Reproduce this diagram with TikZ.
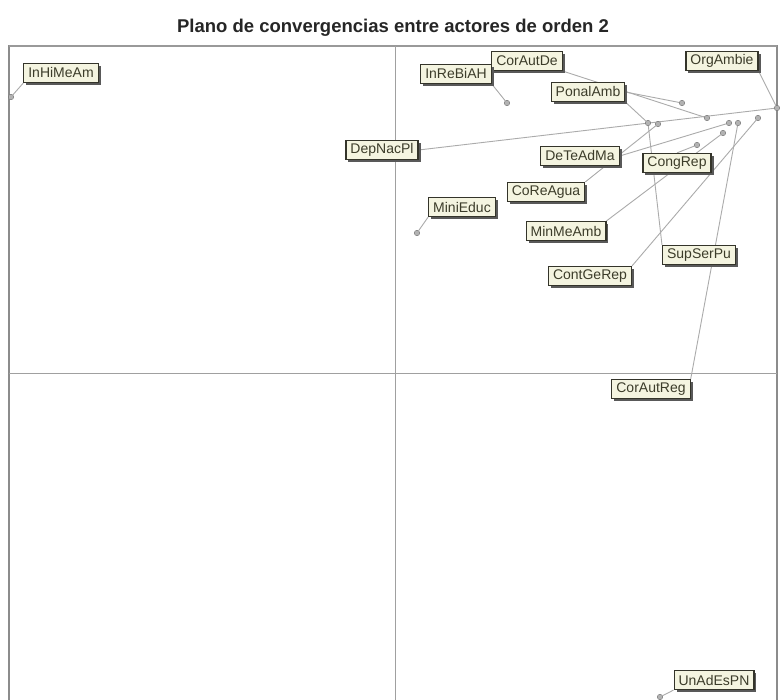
\documentclass[tikz,border=0pt]{standalone}
\usepackage{fontspec}
\setmainfont{Liberation Sans}
\usetikzlibrary{shadows,backgrounds}
\definecolor{cream}{HTML}{F4F4E0}
\definecolor{boxline}{HTML}{34342A}
\definecolor{axisgray}{HTML}{A0A0A0}
\definecolor{leadgray}{HTML}{ABABAB}
\definecolor{labtext}{HTML}{3C3C2A}
\tikzset{
  lab/.style={draw=boxline, line width=1.2pt, fill=cream, text=labtext,
    font=\fontsize{14}{15}\selectfont, inner xsep=4.5pt, inner ysep=0pt,
    minimum height=19pt, anchor=center,
    drop shadow={shadow xshift=2.5pt, shadow yshift=-2.5pt, fill=black!65, opacity=1}},
  pt/.style={circle, draw=black!55, fill=black!30, inner sep=0pt, minimum size=5.5pt},
  lead/.style={draw=leadgray, line width=0.9pt},
  axisline/.style={draw=axisgray, line width=0.9pt},
  frameline/.style={draw=black!45, line width=1.3pt}
}
\begin{document}
\begin{tikzpicture}[x=1pt,y=-1pt]
\useasboundingbox (0,0) rectangle (780,700);
% title
\node[font=\bfseries\fontsize{18.5}{20}\selectfont, text=black!85] (title) at (393,28) {Plano de convergencias entre actores de orden 2};
% points
\node[pt] (pInHi) at (11,97) {};
\node[pt] (pInRe) at (507,103) {};
\node[pt] (pMini) at (417,233) {};
\node[pt] (pUnAd) at (660,697) {};
\node[pt] (p1) at (648,123) {};
\node[pt] (p2) at (658,124) {};
\node[pt] (p3) at (682,103) {};
\node[pt] (p4) at (707,118) {};
\node[pt] (p5) at (729,123) {};
\node[pt] (p6) at (738,123) {};
\node[pt] (p7) at (758,118) {};
\node[pt] (p8) at (723,133) {};
\node[pt] (p9) at (697,145) {};
\node[pt] (p10) at (777,108) {};
% labels
\node[lab] (InHiMeAm) at (61,73) {InHiMeAm};
\node[lab] (CorAutDe) at (527,61) {CorAutDe};
\node[lab] (InReBiAH) at (456,74) {InReBiAH};
\node[lab] (OrgAmbie) at (722,61) {OrgAmbie};
\node[lab] (PonalAmb) at (588,92) {PonalAmb};
\node[lab] (DepNacPl) at (382,150) {DepNacPl};
\node[lab] (DeTeAdMa) at (580,156) {DeTeAdMa};
\node[lab] (CongRep) at (677,163) {CongRep};
\node[lab] (CoReAgua) at (546,192) {CoReAgua};
\node[lab] (MiniEduc) at (462,207) {MiniEduc};
\node[lab] (MinMeAmb) at (566,231) {MinMeAmb};
\node[lab] (SupSerPu) at (699,255) {SupSerPu};
\node[lab] (ContGeRep) at (590,276) {ContGeRep};
\node[lab] (CorAutReg) at (651,389) {CorAutReg};
\node[lab] (UnAdEsPN) at (714,680) {UnAdEsPN};
\begin{pgfonlayer}{background}
\fill[white] (0,0) rectangle (780,700);
% frame and axes
\draw[frameline] (9,700) -- (9,46) -- (777,46) -- (777,700);
\draw[draw=black!40, line width=2.8pt] (9,46) -- (777,46);
\draw[axisline] (395,46) -- (395,700);
\draw[axisline] (9,373) -- (777,373);
% leader lines
\draw[lead] (InHiMeAm.south west) -- (pInHi);
\draw[lead] (InReBiAH.south east) -- (pInRe);
\draw[lead] (MiniEduc.south west) -- (pMini);
\draw[lead] (UnAdEsPN.south west) -- (pUnAd);
\draw[lead] (CorAutDe.south east) -- (p4);
\draw[lead] (OrgAmbie.south east) -- (p10);
\draw[lead] (PonalAmb.east) -- (p3);
\draw[lead] (PonalAmb.south east) -- (p1);
\draw[lead] (DepNacPl.east) -- (p10);
\draw[lead] (DeTeAdMa.east) -- (p5);
\draw[lead] (CongRep.north) -- (p9);
\draw[lead] (CoReAgua.north east) -- (p2);
\draw[lead] (MinMeAmb.north east) -- (p8);
\draw[lead] (SupSerPu.north west) -- (p1);
\draw[lead] (ContGeRep.north east) -- (p7);
\draw[lead] (CorAutReg.north east) -- (p6);
\end{pgfonlayer}
\end{tikzpicture}
\end{document}
